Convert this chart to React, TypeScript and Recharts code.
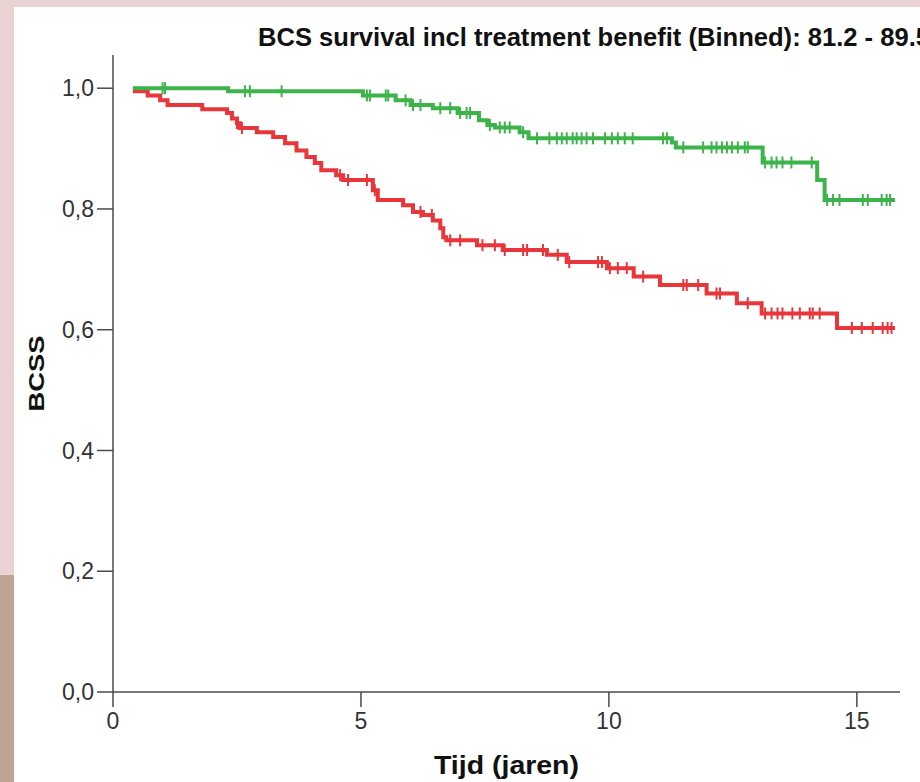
import { ComposedChart, Line, Scatter, XAxis, YAxis, Label } from 'recharts';

/* -------------------------------------------------------------------------- */
/*  Data (Kaplan-Meier steps)                            */
/* -------------------------------------------------------------------------- */

const greenTimes = [0.4, 2.32, 5.04, 5.7, 6.0, 6.45, 6.95, 7.38, 7.55, 7.7, 8.2, 8.38, 11.27, 11.35, 13.1, 14.2, 14.35, 15.77];
const greenSurv = [1.0, 0.995, 0.988, 0.98, 0.972, 0.967, 0.959, 0.947, 0.939, 0.935, 0.927, 0.917, 0.91, 0.902, 0.877, 0.848, 0.815, 0.815];

const redTimes = [0.4, 0.7, 0.95, 1.1, 1.8, 2.3, 2.4, 2.5, 2.56, 2.9, 3.23, 3.47, 3.7, 3.9, 4.07, 4.2, 4.5, 4.64, 5.24, 5.34, 5.85, 6.05, 6.25, 6.45, 6.6, 6.66, 6.72, 7.34, 7.86, 8.75, 9.15, 9.96, 10.5, 11.03, 11.97, 12.58, 13.08, 14.6, 15.77];
const redSurv = [0.995, 0.988, 0.98, 0.972, 0.965, 0.959, 0.95, 0.942, 0.934, 0.927, 0.919, 0.909, 0.897, 0.886, 0.876, 0.864, 0.856, 0.848, 0.831, 0.815, 0.806, 0.795, 0.79, 0.781, 0.768, 0.753, 0.748, 0.74, 0.732, 0.724, 0.712, 0.702, 0.688, 0.674, 0.66, 0.644, 0.627, 0.603, 0.603];

// censored cases (time in years)
const greenCensored = [1.0, 1.05, 2.66, 2.76, 3.4, 5.12, 5.18, 5.5, 5.55, 5.9, 6.05, 6.2, 6.6, 6.8, 7.0, 7.13, 7.2, 7.6, 7.8, 7.9, 8.0, 8.27, 8.55, 8.8, 8.95, 9.05, 9.15, 9.27, 9.35, 9.45, 9.55, 9.68, 9.92, 10.06, 10.18, 10.32, 10.48, 11.09, 11.17, 11.5, 11.9, 12.07, 12.17, 12.28, 12.38, 12.48, 12.6, 12.74, 12.8, 13.15, 13.28, 13.38, 13.5, 13.68, 14.09, 14.4, 14.52, 14.65, 15.12, 15.22, 15.5, 15.6, 15.67];
const redCensored = [2.5, 2.6, 4.58, 4.74, 5.12, 5.28, 6.2, 6.43, 6.8, 7.0, 7.45, 7.7, 7.9, 8.27, 8.35, 8.67, 8.97, 9.2, 9.78, 9.86, 10.02, 10.18, 10.36, 10.69, 11.5, 11.57, 11.8, 12.17, 12.24, 12.8, 13.15, 13.28, 13.4, 13.5, 13.7, 13.85, 14.05, 14.11, 14.25, 14.9, 15.1, 15.32, 15.52, 15.62, 15.7];

const xTicks = [0, 5, 10, 15];
const yTicks = [0, 0.2, 0.4, 0.6, 0.8, 1.0];

const GREEN = '#3cb44a';
const RED = '#e8363b';
const AXIS = '#4a4a4a';
const FONT = '"Liberation Sans", Arial, sans-serif';

/* -------------------------------------------------------------------------- */
/*  Helpers                                                                   */
/* -------------------------------------------------------------------------- */

function steps(times: number[], surv: number[]) {
  return times.map((t, i) => ({ t, s: surv[i] }));
}

// y of a censor mark = survival of the step it sits on
function censorPoints(censored: number[], times: number[], surv: number[]) {
  return censored.map((t) => {
    let s = surv[0];
    times.forEach((tt, i) => {
      if (tt <= t) s = surv[i];
    });
    return { t, s };
  });
}

const censorMark = (color: string) => (props: any) => {
  const { cx, cy } = props;
  if (cx == null || cy == null) return <g />;
  return <line x1={cx} y1={cy - 6} x2={cx} y2={cy + 6} stroke={color} strokeWidth={2} />;
};

/* -------------------------------------------------------------------------- */
/*  Component                                                                 */
/* -------------------------------------------------------------------------- */

export default function App() {
  const green = steps(greenTimes, greenSurv);
  const red = steps(redTimes, redSurv);
  const greenCens = censorPoints(greenCensored, greenTimes, greenSurv);
  const redCens = censorPoints(redCensored, redTimes, redSurv);

  return (
    <div
      style={{
        position: 'absolute',
        left: 0,
        top: 0,
        width: 920,
        height: 782,
        overflow: 'hidden',
        background: '#e9d2d2',
        fontFamily: FONT,
      }}
    >
      <div style={{ position: 'absolute', left: 0, top: 575, width: 14, height: 207, background: '#bea493' }} />
      <div style={{ position: 'absolute', left: 14, top: 7, width: 906, height: 775, background: '#ffffff' }} />

      <svg width={920} height={782} style={{ position: 'absolute', left: 0, top: 0 }}>
        <text
          x={258}
          y={46}
          fontFamily={FONT}
          fontWeight="bold"
          fontSize={25}
          textLength={672}
          lengthAdjust="spacingAndGlyphs"
          fill="#111"
        >
          BCS survival incl treatment benefit (Binned): 81.2 - 89.5
        </text>
      </svg>

      <div style={{ position: 'absolute', left: 0, top: 0 }}>
        <ComposedChart width={920} height={782} margin={{ top: 55, right: 20, bottom: 0, left: 0 }}>
          <XAxis
            dataKey="t"
            type="number"
            domain={[0, 15.87]}
            ticks={xTicks}
            allowDataOverflow
            height={90}
            tickSize={15}
            tickMargin={6}
            stroke={AXIS}
            strokeWidth={1.5}
            tick={{ fill: '#333', fontSize: 23, fontFamily: FONT }}
          >
            <Label
              content={({ viewBox }: any) => (
                <text
                  x={viewBox.x + viewBox.width / 2}
                  y={774}
                  textAnchor="middle"
                  fontFamily={FONT}
                  fontWeight="bold"
                  fontSize={26}
                  textLength={145}
                  lengthAdjust="spacingAndGlyphs"
                  fill="#111"
                >
                  Tijd (jaren)
                </text>
              )}
            />
          </XAxis>
          <YAxis
            dataKey="s"
            type="number"
            domain={[0, 1.055]}
            ticks={yTicks}
            allowDataOverflow
            width={113}
            tickSize={16}
            tickMargin={3}
            stroke={AXIS}
            strokeWidth={1.5}
            tickFormatter={(v: number) => v.toFixed(1).replace('.', ',')}
            tick={{ fill: '#333', fontSize: 23, fontFamily: FONT }}
          >
            <Label
              content={({ viewBox }: any) => {
                const cx = 36;
                const cy = viewBox.y + viewBox.height / 2;
                return (
                  <text
                    x={cx}
                    y={cy}
                    transform={`rotate(-90 ${cx} ${cy})`}
                    textAnchor="middle"
                    dominantBaseline="central"
                    fontFamily={FONT}
                    fontWeight="bold"
                    fontSize={22}
                    textLength={76}
                    lengthAdjust="spacingAndGlyphs"
                    fill="#111"
                  >
                    BCSS
                  </text>
                );
              }}
            />
          </YAxis>
          <Line
            data={red}
            dataKey="s"
            type="stepAfter"
            stroke={RED}
            strokeWidth={4}
            dot={false}
            activeDot={false}
            isAnimationActive={false}
          />
          <Line
            data={green}
            dataKey="s"
            type="stepAfter"
            stroke={GREEN}
            strokeWidth={4}
            dot={false}
            activeDot={false}
            isAnimationActive={false}
          />
          <Scatter data={redCens} dataKey="s" shape={censorMark(RED)} isAnimationActive={false} />
          <Scatter data={greenCens} dataKey="s" shape={censorMark(GREEN)} isAnimationActive={false} />
        </ComposedChart>
      </div>
    </div>
  );
}
